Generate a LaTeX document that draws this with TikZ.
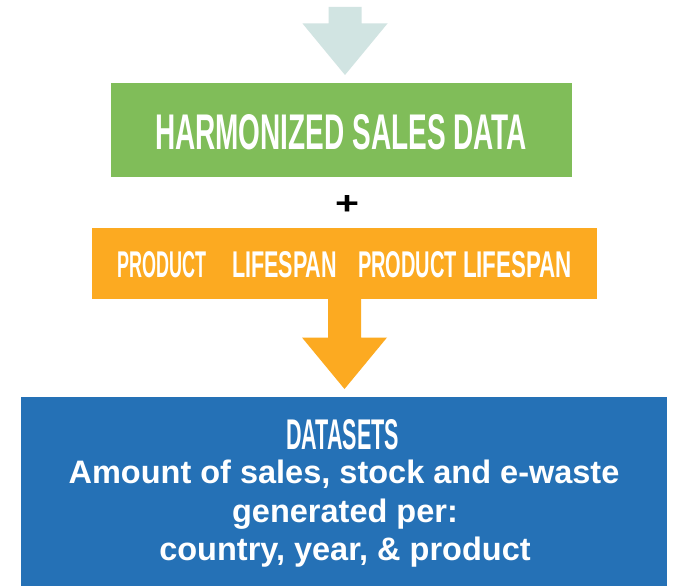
\documentclass[tikz,border=0pt]{standalone}
\usepackage{graphicx}
\usepackage{fontspec}
\setmainfont{Liberation Sans}
\usetikzlibrary{calc}
\definecolor{lightarrow}{RGB}{209,228,226}
\definecolor{boxgreen}{RGB}{128,189,89}
\definecolor{boxorange}{RGB}{252,170,33}
\definecolor{boxblue}{RGB}{37,113,182}
\newcommand{\blockarrowfill}[3]{%
  \fill[#1] let \p1=(#2), \p2=(#3) in
    (\x1-16.5pt,\y1) -- (\x1+16.5pt,\y1) -- (\x1+16.5pt,\y2+59.5pt) --
    (\x1+42.5pt,\y2+59.5pt) -- (\x1,\y2+8pt) -- (\x1-42.5pt,\y2+59.5pt) --
    (\x1-16.5pt,\y2+59.5pt) -- cycle;}
\begin{document}
\begin{tikzpicture}[x=1pt,y=-1pt,
  box/.style={rectangle,draw=none,inner sep=0pt,outer sep=0pt},
  condtext/.style={inner sep=0pt,outer sep=0pt,anchor=base west,text=white,font=\bfseries},
  bodytext/.style={inner sep=0pt,outer sep=0pt,anchor=base,text=white,font=\fontsize{32.5}{38}\selectfont\bfseries}]
\useasboundingbox (0,0) rectangle (673,586);
\fill[white] (0,0) rectangle (673,586);
% boxes
\node[box,fill=boxgreen,minimum width=461pt,minimum height=94pt] (green) at (341.5,130) {};
\node[box,fill=boxorange,minimum width=505pt,minimum height=71pt] (orange) at (344.5,263.5) {};
\node[box,fill=boxblue,minimum width=646pt,minimum height=189pt] (blue) at (344,491.5) {};
% arrows
\coordinate (topsrc) at (345,7);
\blockarrowfill{lightarrow}{topsrc}{green.north}
\blockarrowfill{boxorange}{orange.south}{blue.north}
% texts
\node[condtext] (harm) at (155,149) {\resizebox{372pt}{35pt}{HARMONIZED SALES DATA}};
\node[inner sep=0pt,anchor=base,text=black,font=\bfseries] (plus) at (347,214.5) {\resizebox{24pt}{19pt}{+}};
\node[condtext] (prodA) at (117,277) {\resizebox{89pt}{26pt}{PRODUCT}};
\node[condtext] (lifeA) at (232,277) {\resizebox{105pt}{26pt}{LIFESPAN}};
\node[condtext] (prodB) at (358,277) {\resizebox{99pt}{26pt}{PRODUCT}};
\node[condtext] (lifeB) at (463,277) {\resizebox{109pt}{26pt}{LIFESPAN}};
\node[condtext] (datasets) at (286,449) {\resizebox{113pt}{30pt}{DATASETS}};
\node[bodytext] (lineA) at (344,483) {Amount of sales, stock and e-waste};
\node[bodytext] (lineB) at (345,522) {generated per:};
\node[bodytext] (lineC) at (345,560) {country, year, \& product};
\end{tikzpicture}
\end{document}
